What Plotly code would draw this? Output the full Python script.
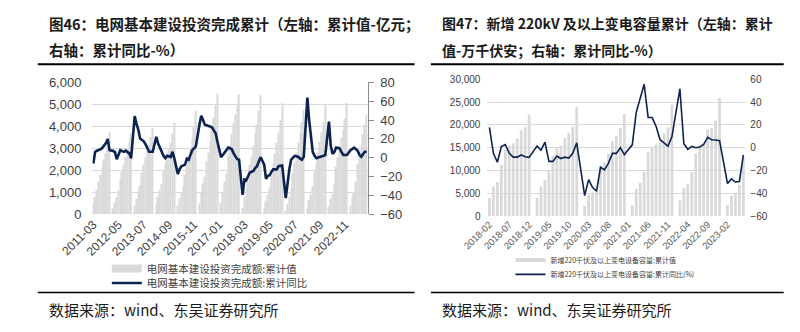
import plotly.graph_objects as go

# ---------------- helpers ----------------
W, H = 800, 332
def px(x):
    return x / W
def py(y):
    return 1 - y / H

def month_labels(y0, m0, y1, m1):
    out = []
    y, m = y0, m0
    while (y, m) <= (y1, m1):
        out.append(f"{y}-{m:02d}")
        m += 1
        if m > 12:
            m = 1
            y += 1
    return out

# ---------------- left chart data (亿元 / %) ----------------
cat_left = month_labels(2011, 3, 2023, 11)
ticks_left = ["2011-03", "2012-05", "2013-07", "2014-09", "2015-11", "2017-01",
              "2018-03", "2019-05", "2020-07", "2021-09", "2022-11"]

inv_2011 = [480, 780, 1100, 1480, 1800, 2150, 2480, 2800, 3150, 3720]
inv_2012 = [None, 260, 520, 780, 1090, 1600, 1930, 2260, 2600, 2950, 3300, 3680]
inv_2013 = [None, 370, 700, 1000, 1300, 1900, 2250, 2580, 2880, 3150, 3500, 3920]
inv_2014 = [None, 450, 800, 1100, 1380, 1950, 2260, 2620, 2950, 3250, 3700, 4170]
inv_2015 = [None, 370, 700, 1000, 1270, 1800, 2220, 2650, 3050, 3450, 3950, 4700]
inv_2016 = [None, 500, 1000, 1400, 1700, 2400, 2800, 3350, 3950, 4400, 4950, 5500]
inv_2017 = [None, 500, 1030, 1480, 1850, 2660, 3100, 3650, 4150, 4550, 4950, 5450]
inv_2018 = [None, 300, 790, 1120, 1480, 2240, 2630, 3130, 3690, 4090, 4700, 5420]
inv_2019 = [None, 280, 610, 900, 1210, 1900, 2300, 2750, 3240, 3720, 4300, 5050]
inv_2020 = [None, 160, 460, 790, 1190, 1900, 2350, 2800, 3260, 3700, 4200, 4750]
inv_2021 = [None, 260, 640, 880, 1270, 1940, 2340, 2800, 3290, 3740, 4200, 4970]
inv_2022 = [None, 360, 720, 920, 1350, 2150, 2590, 3070, 3490, 3850, 4330, 5060]
inv_2023 = [None, 390, 790, 1020, 1470, 2300, 2670, 3100, 3640, 4100, 4500]

yoy_2011 = [-6.2, 6.3, 7.5, 8, 9, 10.5, 12.5, 15.5, 20, 8]
yoy_2012 = [None, 7.3, 6, -1.5, 3, 8, 7, 6.3, 7.5, 6, 4.6, -0.5]
yoy_2013 = [None, 44.2, 36, 30, 20.5, 19, 17.4, 14.5, 10.5, 6.3, 6.3, 6.3]
yoy_2014 = [None, 22.2, 15, 11, 6, 2, -0.5, 2, 1.5, 0.8, 6.3, -0.5]
yoy_2015 = [None, -17.4, -12, -9, -8, -7.3, -1, -2.2, 3, 8, 10, 12]
yoy_2016 = [None, 35, 44.5, 40, 35, 34.5, 34, 33, 32.3, 29, 26, 17]
yoy_2017 = [None, 0.6, 3, 6, 9, 10.7, 10, 9, 4.6, 1, -1.5, -2]
yoy_2018 = [None, -39.4, -23.2, -24, -20, -15.7, -15, -14, -11, -9, -4, 0.6]
yoy_2019 = [None, -7.3, -22.5, -19.2, -18.5, -15, -12.4, -12.4, -12.4, -9, -8.5, -8.3]
yoy_2020 = [None, -42.8, -25, -12, -2, 0, 2, 1.5, 0.8, -1, -2.2, 1.1]
yoy_2021 = [None, 63.8, 40, 22, 6.3, 2, -0.5, 0.3, 0.8, 1, 2, 2.9]
yoy_2022 = [None, 38.4, 13, 4, 6, 10.7, 10.5, 9.7, 6, 2.9, 2.9, 2.9]
yoy_2023 = [None, 8, 9.5, 10.7, 9, 7.3, 3, 1.1, 4, 6.3, 6.3]

inv_left = (inv_2011 + inv_2012 + inv_2013 + inv_2014 + inv_2015 + inv_2016 + inv_2017
            + inv_2018 + inv_2019 + inv_2020 + inv_2021 + inv_2022 + inv_2023)
yoy_left = (yoy_2011 + yoy_2012 + yoy_2013 + yoy_2014 + yoy_2015 + yoy_2016 + yoy_2017
            + yoy_2018 + yoy_2019 + yoy_2020 + yoy_2021 + yoy_2022 + yoy_2023)

# ---------------- right chart data (万千伏安 / %) ----------------
cat_right = month_labels(2018, 2, 2023, 6)
ticks_right = ["2018-02", "2018-07", "2018-12", "2019-05", "2019-10", "2020-03", "2020-08",
               "2021-01", "2021-06", "2021-11", "2022-04", "2022-09", "2023-02"]

cap_2018 = [4000, 6500, 7500, 11200, 14500, 15500, 16000, 17000, 18800, 19500, 22200]
cap_2019 = [None, 4000, 6500, 7900, 10100, 13200, 14900, 15500, 17200, 18300, 19600, 24000]
cap_2020 = [None, 2200, 4700, 5200, 5500, 10800, 11800, 13700, 16400, 17500, 19300, 22400]
cap_2021 = [None, 2400, 6000, 7300, 9600, 14000, 14900, 15700, 16300, 18100, 19500, 24400]
cap_2022 = [None, 3500, 6100, 7100, 9600, 13700, 15100, 15800, 19000, 19300, 20900, 25900]
cap_2023 = [None, 2450, 4500, 5000, 6900, 12800]

cyoy_2018 = [17.9, -5, -12.8, 1.1, 2.8, -5, -8.3, -8.3, -6.4, -8, -8.5]
cyoy_2019 = [None, 1.4, -2.2, 4.8, -12, -12, -7.3, -9.5, -8.3, -9.1, -5, 4.2]
cyoy_2020 = [None, -42, -28, -35, -38, -17, -19.5, -13.5, -5, -5, 0, -6]
cyoy_2021 = [None, 2.5, 31, 44, 55.6, 26.5, 26.5, 18.7, 7, 4.2, 1.4, 9.8]
cyoy_2022 = [None, 51.6, 3.4, -1.4, 1.1, 0, 0.6, 2.8, 9, 7, 6.7, 6.2]
cyoy_2023 = [None, -31.5, -27.3, -30.1, -29.6, -6.4]

cap_right = cap_2018 + cap_2019 + cap_2020 + cap_2021 + cap_2022 + cap_2023
yoy_right = cyoy_2018 + cyoy_2019 + cyoy_2020 + cyoy_2021 + cyoy_2022 + cyoy_2023

# ---------------- styles ----------------
BAR = "#d9d9d9"
NAVY = "#0c2350"
GRID = "#d9d9d9"
CJK = "Noto Sans CJK SC"
LAT = "Liberation Sans"

fig = go.Figure()

# left chart
fig.add_trace(go.Bar(x=cat_left, y=inv_left, marker=dict(color=BAR, line=dict(width=0)),
                     width=0.8, xaxis="x", yaxis="y", showlegend=False,
                     name="电网基本建设投资完成额:累计值"))
fig.add_trace(go.Scatter(x=[cat_left[0]], y=[None], mode="lines",
                         line=dict(color=BAR, width=8), xaxis="x", yaxis="y",
                         name="电网基本建设投资完成额:累计值", legend="legend"))
fig.add_trace(go.Scatter(x=cat_left, y=yoy_left, mode="lines", connectgaps=True,
                         line=dict(color=NAVY, width=2.6), xaxis="x", yaxis="y2",
                         name="电网基本建设投资完成额:累计同比", legend="legend2"))

# right chart
fig.add_trace(go.Bar(x=cat_right, y=cap_right, marker=dict(color=BAR, line=dict(width=0)),
                     width=0.7, xaxis="x3", yaxis="y3", showlegend=False,
                     name="新增220千伏及以上变电设备容量:累计值"))
fig.add_trace(go.Scatter(x=[cat_right[0]], y=[None], mode="lines",
                         line=dict(color=BAR, width=4), xaxis="x3", yaxis="y3",
                         name="新增220千伏及以上变电设备容量:累计值", legend="legend3"))
fig.add_trace(go.Scatter(x=cat_right, y=yoy_right, mode="lines", connectgaps=True,
                         line=dict(color=NAVY, width=1.6), xaxis="x3", yaxis="y4",
                         name="新增220千伏及以上变电设备容量:累计同比(%)", legend="legend4"))

leg_common = dict(bgcolor="rgba(0,0,0,0)", borderwidth=0, xanchor="left", yanchor="middle",
                  orientation="v", tracegroupgap=0)

fig.update_layout(
    width=W, height=H,
    margin=dict(l=0, r=0, t=0, b=0),
    paper_bgcolor="white", plot_bgcolor="rgba(0,0,0,0)",
    font=dict(family=LAT, color="#404040"),
    xaxis=dict(domain=[px(62), px(349)], anchor="y", type="category",
               range=[-0.5, len(cat_left) - 0.5],
               tickmode="array", tickvals=ticks_left, ticktext=ticks_left,
               tickangle=-45, tickfont=dict(size=12, color="#404040", family=LAT),
               showgrid=False, showline=False, zeroline=False, ticks=""),
    yaxis=dict(domain=[py(217), py(79)], anchor="x", range=[0, 6000], dtick=1000,
               tickformat=",", showgrid=True, gridcolor=GRID, gridwidth=1,
               zeroline=False, showline=False, ticks="",
               ticklabelstandoff=10, tickfont=dict(size=13, color="#404040", family=LAT)),
    yaxis2=dict(overlaying="y", anchor="x", side="right", range=[-60, 80], dtick=20,
                showgrid=False, zeroline=False, showline=True, linecolor="#8c8c8c",
                linewidth=1, ticks="outside", ticklen=5, tickcolor="#8c8c8c",
                ticklabelstandoff=4, tickfont=dict(size=13, color="#404040", family=LAT)),
    xaxis3=dict(domain=[px(474), px(743)], anchor="y3", type="category",
                range=[-0.5, len(cat_right) - 0.5],
                tickmode="array", tickvals=ticks_right, ticktext=ticks_right,
                tickangle=-45, tickfont=dict(size=9.5, color="#595959", family=LAT),
                showgrid=False, showline=False, zeroline=False, ticks=""),
    yaxis3=dict(domain=[py(219), py(75.7)], anchor="x3", range=[0, 30000], dtick=5000,
                tickformat=",", showgrid=True, gridcolor=GRID, gridwidth=1,
                zeroline=False, showline=False, ticks="", ticklabelstandoff=6,
                tickfont=dict(size=10, color="#404040", family=LAT)),
    yaxis4=dict(overlaying="y3", anchor="x3", side="right", range=[-60, 60], dtick=20,
                showgrid=False, zeroline=False, showline=False, ticks="",
                ticklabelstandoff=4, tickfont=dict(size=10, color="#404040", family=LAT)),
    legend=dict(x=px(77), y=py(274), font=dict(size=10.5, family=CJK, color="#404040"), **leg_common),
    legend2=dict(x=px(77), y=py(289), font=dict(size=10.5, family=CJK, color="#404040"), **leg_common),
    legend3=dict(x=px(498), y=py(265), font=dict(size=7, family=CJK, color="#404040"), **leg_common),
    legend4=dict(x=px(498), y=py(280), font=dict(size=7, family=CJK, color="#404040"), **leg_common),
    showlegend=True,
)

# titles
titles = [
    (15, 17, "<b>图46：电网基本建设投资完成累计（左轴：累计值-亿元；</b>", 14.5),
    (15, 45, "<b>右轴：累计同比-%）</b>", 14.5),
    (425, 17, "<b>图47：新增 220kV 及以上变电容量累计（左轴：累计</b>", 14),
    (425, 45, "<b>值-万千伏安；右轴：累计同比-%）</b>", 14),
]
for x, y, t, s in titles:
    fig.add_annotation(x=px(x), y=py(y), xref="paper", yref="paper", text=t,
                       showarrow=False, xanchor="left", yanchor="middle",
                       font=dict(family=CJK, size=s, color="#1a1a1a"))

foot_font = dict(family=CJK, size=15, color="#1a1a1a")
for x in (15, 425):
    fig.add_annotation(x=px(x), y=py(317), xref="paper", yref="paper",
                       text="数据来源：wind、东吴证券研究所", showarrow=False,
                       xanchor="left", yanchor="middle", font=foot_font)

# rules
for (x0, x1) in ((5, 398), (415, 783)):
    fig.add_shape(type="line", xref="paper", yref="paper", x0=px(x0), x1=px(x1),
                  y0=py(60), y1=py(60), line=dict(color="#000000", width=2))
    fig.add_shape(type="line", xref="paper", yref="paper", x0=px(x0), x1=px(x1),
                  y0=py(299), y1=py(299), line=dict(color="#000000", width=1.5))

fig.write_html("out.html")
